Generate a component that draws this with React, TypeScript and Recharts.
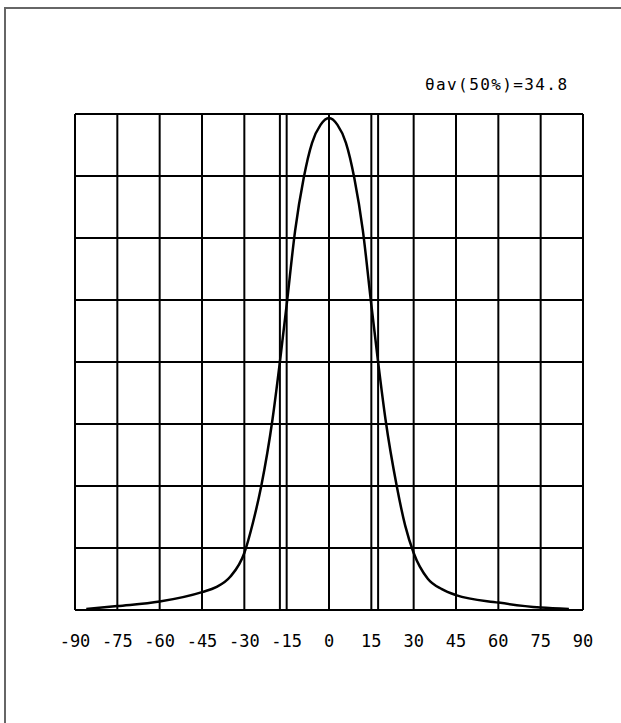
import { LineChart, Line, XAxis, YAxis, CartesianGrid, ReferenceLine } from "recharts"

// relative intensity (%) vs. angle (deg)
const angles = [-86, -75, -60, -45, -40, -35, -30, -27, -24, -20, -17.4, -15, -12, -9, -6, -3, 0, 3, 6, 9, 12, 15, 17.4, 20, 24, 27, 30, 35, 40, 45, 60, 75, 85]
const intensity = [0.2, 0.8, 1.7, 3.6, 4.6, 6.7, 11.5, 17.5, 25, 38.5, 50, 61.5, 76.5, 87, 94.2, 97.8, 99.2, 97.8, 94.2, 87, 76.5, 61.5, 50, 38.5, 25, 17, 11.5, 6.3, 4.2, 3.0, 1.5, 0.5, 0.2]
const xTicks = [-90, -75, -60, -45, -30, -15, 0, 15, 30, 45, 60, 75, 90]
const yTicks = [0, 12.5, 25, 37.5, 50, 62.5, 75, 87.5, 100]
const halfAngles = [-17.4, 17.4]
const title = "θav(50%)=34.8"

const data = angles.map((a, i) => ({ angle: a, value: intensity[i] }))

const font = "'DejaVu Sans Mono', 'Liberation Mono', monospace"

export default function App() {
  return (
    <div style={{ position: "fixed", left: 0, top: 0, width: 621, height: 723, background: "#fff" }}>
      <div
        style={{
          position: "absolute",
          left: 4,
          top: 7,
          right: 0,
          bottom: 0,
          borderTop: "2px solid #666",
          borderLeft: "2px solid #666",
        }}
      />
      <div
        style={{
          position: "absolute",
          left: 425,
          top: 75,
          fontFamily: font,
          fontSize: 16,
          letterSpacing: 1.4,
          color: "#000",
          whiteSpace: "nowrap",
        }}
      >
        {title}
      </div>
      <div style={{ position: "absolute", left: 0, top: 0 }}>
        <LineChart width={621} height={723} data={data} margin={{ top: 114, left: 75, right: 38, bottom: 83 }}>
          <CartesianGrid stroke="#000" strokeWidth={2} />
          <XAxis
            dataKey="angle"
            type="number"
            domain={[-90, 90]}
            ticks={xTicks}
            interval={0}
            height={30}
            tickLine={false}
            tickSize={0}
            tickMargin={25}
            axisLine={{ stroke: "#000", strokeWidth: 2 }}
            tick={{ fill: "#000", fontFamily: font, fontSize: 17 }}
          />
          <YAxis type="number" domain={[0, 100]} ticks={yTicks} hide />
          <ReferenceLine x={-90} stroke="#000" strokeWidth={2} />
          <ReferenceLine x={90} stroke="#000" strokeWidth={2} />
          <ReferenceLine y={100} stroke="#000" strokeWidth={2} />
          {halfAngles.map((a) => (
            <ReferenceLine key={a} x={a} stroke="#000" strokeWidth={2} />
          ))}
          <Line
            type="monotone"
            dataKey="value"
            stroke="#000"
            strokeWidth={2.5}
            dot={false}
            isAnimationActive={false}
          />
        </LineChart>
      </div>
    </div>
  )
}
